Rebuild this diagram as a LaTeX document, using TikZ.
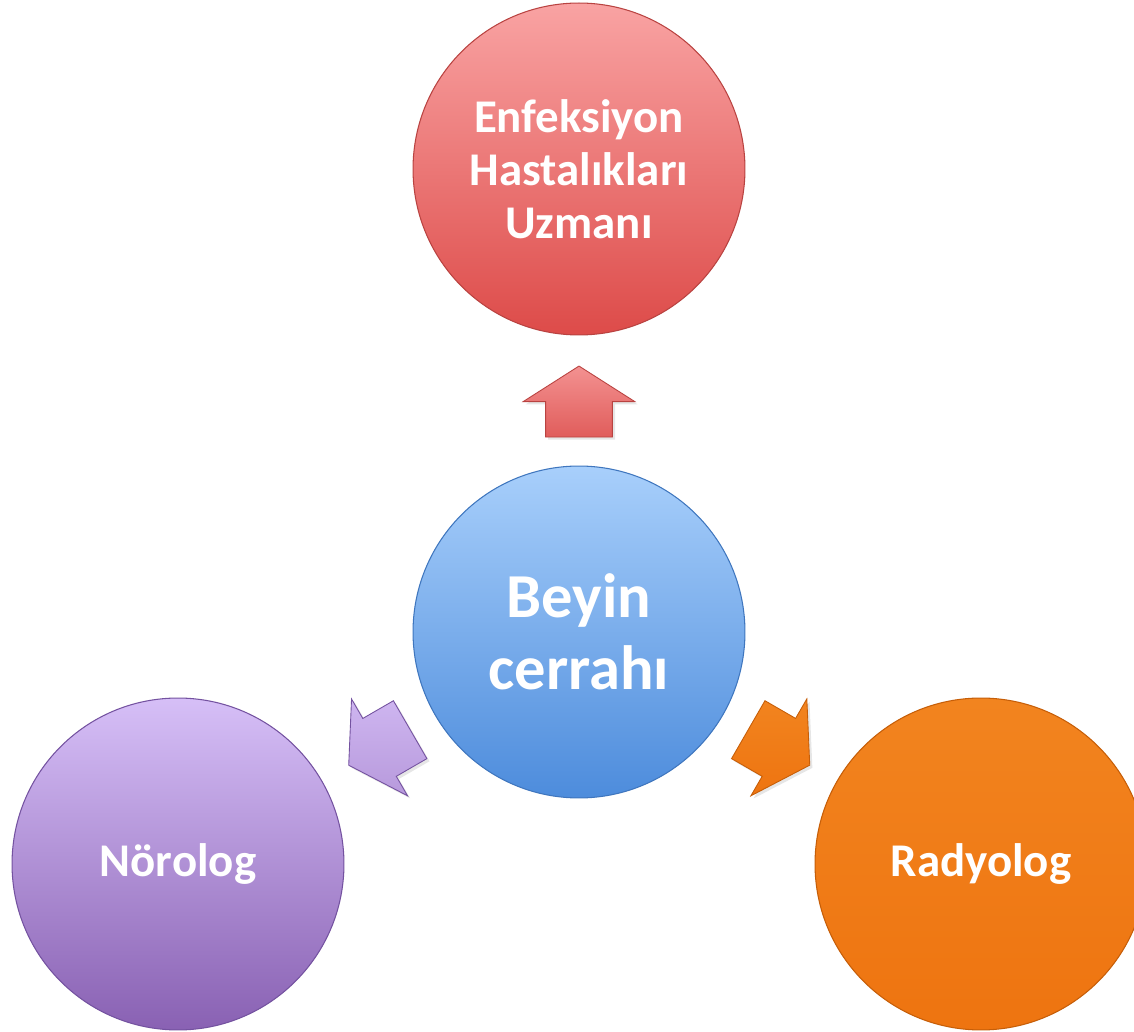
\documentclass[tikz,border=0pt]{standalone}
\usepackage{fontspec}
\setmainfont{Carlito}
\usepackage{xcolor}
\usetikzlibrary{shapes.arrows, shadows}

\definecolor{enfUst}{HTML}{F9A3A3}
\definecolor{enfAlt}{HTML}{DD4B49}
\definecolor{enfCizgi}{HTML}{B94341}
\definecolor{beyUst}{HTML}{A8CFFB}
\definecolor{beyAlt}{HTML}{4D8CDC}
\definecolor{beyCizgi}{HTML}{3F76BE}
\definecolor{norUst}{HTML}{D6BFF7}
\definecolor{norAlt}{HTML}{8961B3}
\definecolor{norCizgi}{HTML}{7452A0}
\definecolor{radUst}{HTML}{F2841F}
\definecolor{radAlt}{HTML}{EE7410}
\definecolor{radCizgi}{HTML}{C65E08}

\begin{document}
\begin{tikzpicture}[
  x=0.02cm, y=0.02cm,
  every node/.style={font=\bfseries},
  uzman/.style={circle, minimum size=6.64cm, inner sep=0pt, align=center,
    text=white, line width=0.6pt},
  yazi/.style={font=\bfseries\fontsize{26.7}{30.2}\selectfont},
  buyukyazi/.style={font=\bfseries\fontsize{35.6}{41}\selectfont},
  blok/.style={single arrow, single arrow head extend=0.45cm, single arrow tip angle=115,
    inner xsep=0pt, inner ysep=0.66cm, minimum height=1.42cm, sloped, allow upside down,
    pos=0.41, line width=0.5pt,
    drop shadow={opacity=0.2, shadow xshift=1.5pt, shadow yshift=-1.5pt}}
]
\useasboundingbox (0,0) rectangle (1134,1032);

\node[uzman, buyukyazi, top color=beyUst, bottom color=beyAlt, draw=beyCizgi] (beyin)
  at (579,400) {Beyin\\cerrahı};
\node[uzman, yazi, top color=enfUst, bottom color=enfAlt, draw=enfCizgi] (enf)
  at (579,863) {Enfeksiyon\\Hastalıkları\\Uzmanı};
\node[uzman, yazi, top color=norUst, bottom color=norAlt, draw=norCizgi] (norolog)
  at (178,168) {Nörolog};
\node[uzman, yazi, top color=radUst, bottom color=radAlt, draw=radCizgi] (radyolog)
  at (981,168) {Radyolog};

% block arrows between the circles
\path (beyin) -- node[blok, top color=enfUst!80!enfAlt, bottom color=enfAlt!90, draw=enfCizgi] (okUst) {} (enf);
\path (beyin) -- node[blok, top color=norUst!90!norAlt, bottom color=norUst!60!norAlt, draw=norCizgi] (okSol) {} (norolog);
\path (beyin) -- node[blok, top color=radUst, bottom color=radAlt, draw=radCizgi] (okSag) {} (radyolog);

\end{tikzpicture}
\end{document}
